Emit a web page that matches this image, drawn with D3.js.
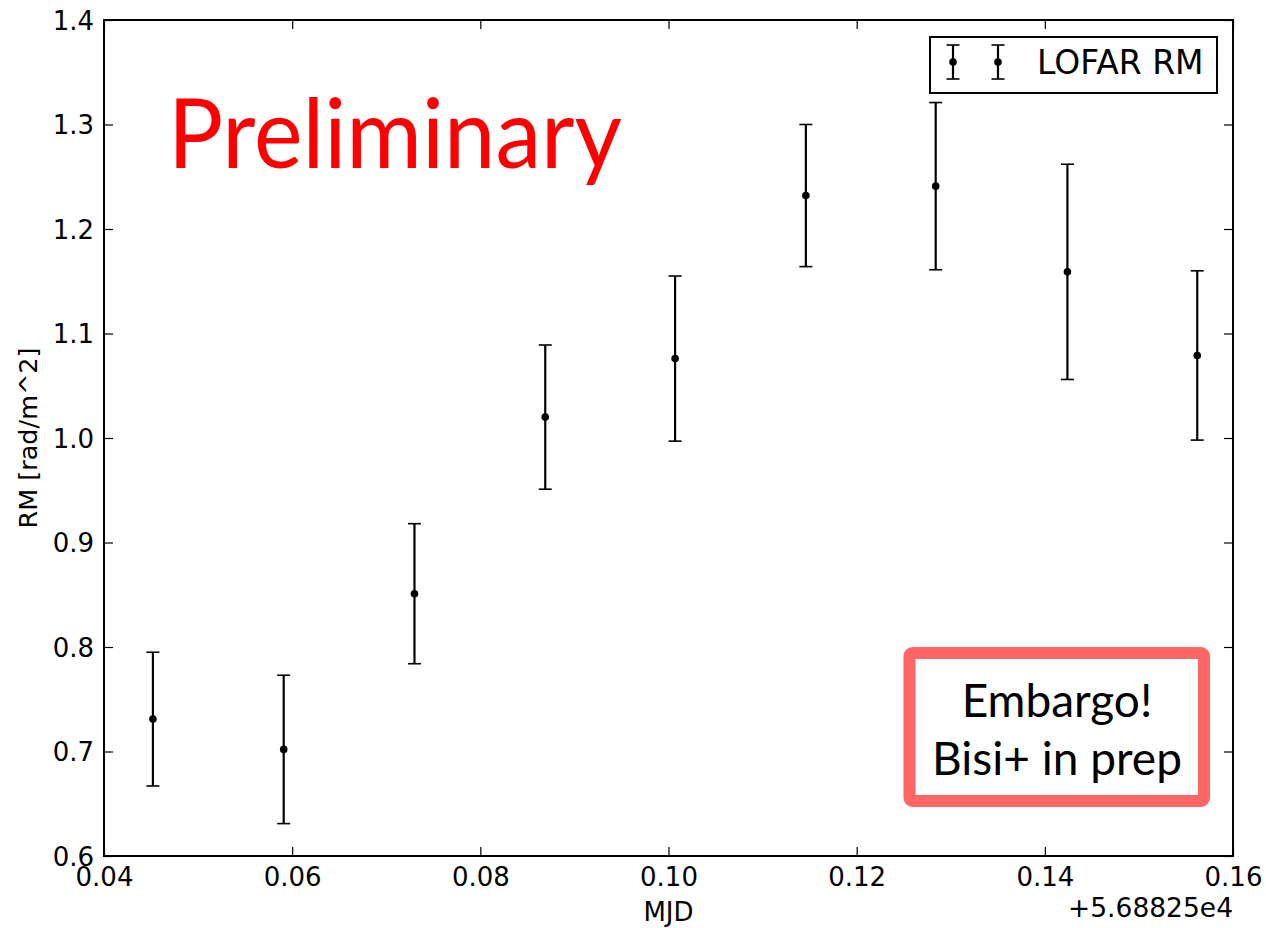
<!DOCTYPE html>
<html>
<head>
<meta charset="utf-8">
<script src="https://cdn.jsdelivr.net/npm/d3@7"></script>
<style>
  body { margin: 0; background: #fff; }
  svg { display: block; }
  text { font-family: "DejaVu Sans", sans-serif; }
</style>
</head>
<body>
<script>
// MJD offsets from 56882.5 and rotation measures
const mjd = [0.0452, 0.0591, 0.0730, 0.0869, 0.1007, 0.1146, 0.1284, 0.1424, 0.1562];
const rm = [0.731, 0.702, 0.851, 1.020, 1.076, 1.232, 1.241, 1.159, 1.079];
const rmErr = [0.064, 0.071, 0.067, 0.069, 0.079, 0.068, 0.080, 0.103, 0.081];
const xTicks = [0.04, 0.06, 0.08, 0.10, 0.12, 0.14, 0.16];
const yTicks = [0.6, 0.7, 0.8, 0.9, 1.0, 1.1, 1.2, 1.3, 1.4];

const width = 1266, height = 928;
const margin = { top: 20, right: 33, bottom: 72, left: 104 };

const svg = d3.select("body").append("svg")
    .attr("width", width)
    .attr("height", height);

const x = d3.scaleLinear().domain([0.04, 0.16]).range([margin.left, width - margin.right]);
const y = d3.scaleLinear().domain([0.6, 1.4]).range([height - margin.bottom, margin.top]);

const points = mjd.map((d, i) => ({ x: d, y: rm[i], e: rmErr[i] }));

// ticks point inward on all four sides, like matplotlib classic style
const tickLen = 9;
const axB = svg.append("g").attr("transform", `translate(0,${y(0.6)})`)
    .call(d3.axisBottom(x).tickValues(xTicks).tickSizeInner(-tickLen).tickSizeOuter(0)
        .tickPadding(11).tickFormat(d3.format(".2f")));
const axT = svg.append("g").attr("transform", `translate(0,${y(1.4)})`)
    .call(d3.axisTop(x).tickValues(xTicks).tickSizeInner(-tickLen).tickSizeOuter(0).tickFormat(""));
const axL = svg.append("g").attr("transform", `translate(${x(0.04)},0)`)
    .call(d3.axisLeft(y).tickValues(yTicks).tickSizeInner(-tickLen).tickSizeOuter(0)
        .tickPadding(10).tickFormat(d3.format(".1f")));
const axR = svg.append("g").attr("transform", `translate(${x(0.16)},0)`)
    .call(d3.axisRight(y).tickValues(yTicks).tickSizeInner(-tickLen).tickSizeOuter(0).tickFormat(""));

[axB, axT, axL, axR].forEach(a => {
    a.select(".domain").remove();
    a.selectAll(".tick line").attr("stroke", "#000").attr("stroke-width", 1.2);
    a.selectAll(".tick text").attr("fill", "#000").style("font-size", "26px");
});
axL.selectAll(".tick text").attr("dy", "0.36em");
axB.selectAll(".tick text").attr("dy", "0.72em");

// frame
svg.append("rect")
    .attr("x", x(0.04)).attr("y", y(1.4))
    .attr("width", x(0.16) - x(0.04)).attr("height", y(0.6) - y(1.4))
    .attr("fill", "none").attr("stroke", "#000").attr("stroke-width", 2);

// axis labels
svg.append("text")
    .attr("x", (x(0.04) + x(0.16)) / 2).attr("y", 921)
    .attr("text-anchor", "middle").style("font-size", "26px")
    .text("MJD");
svg.append("text")
    .attr("x", x(0.16)).attr("y", 917)
    .attr("text-anchor", "end").style("font-size", "26.5px")
    .text("+5.68825e4");
svg.append("text")
    .attr("transform", `translate(37,${(y(0.6) + y(1.4)) / 2}) rotate(-90)`)
    .attr("text-anchor", "middle").style("font-size", "25.5px")
    .text("RM [rad/m^2]");

// error bars
const capW = 6.5;
const bars = svg.append("g").selectAll("g").data(points).enter().append("g");
bars.append("line")
    .attr("x1", d => x(d.x)).attr("x2", d => x(d.x))
    .attr("y1", d => y(d.y - d.e)).attr("y2", d => y(d.y + d.e))
    .attr("stroke", "#000").attr("stroke-width", 2.2);
bars.append("line")
    .attr("x1", d => x(d.x) - capW).attr("x2", d => x(d.x) + capW)
    .attr("y1", d => y(d.y + d.e)).attr("y2", d => y(d.y + d.e))
    .attr("stroke", "#000").attr("stroke-width", 1.6);
bars.append("line")
    .attr("x1", d => x(d.x) - capW).attr("x2", d => x(d.x) + capW)
    .attr("y1", d => y(d.y - d.e)).attr("y2", d => y(d.y - d.e))
    .attr("stroke", "#000").attr("stroke-width", 1.6);
bars.append("circle")
    .attr("cx", d => x(d.x)).attr("cy", d => y(d.y))
    .attr("r", 3.8).attr("fill", "#000");

// legend
const lg = svg.append("g");
lg.append("rect")
    .attr("x", 930).attr("y", 37).attr("width", 287).attr("height", 56)
    .attr("fill", "#fff").attr("stroke", "#000").attr("stroke-width", 2);
[953, 998].forEach(cx => {
    lg.append("line").attr("x1", cx).attr("x2", cx).attr("y1", 45).attr("y2", 79)
        .attr("stroke", "#000").attr("stroke-width", 2.2);
    [45, 79].forEach(cy => lg.append("line")
        .attr("x1", cx - capW).attr("x2", cx + capW).attr("y1", cy).attr("y2", cy)
        .attr("stroke", "#000").attr("stroke-width", 1.6));
    lg.append("circle").attr("cx", cx).attr("cy", 62).attr("r", 3.8).attr("fill", "#000");
});
lg.append("text").attr("x", 1037).attr("y", 74)
    .style("font-size", "33px").text("LOFAR RM");

// overlay annotations
svg.append("text")
    .attr("x", 168).attr("y", 168)
    .style("font-family", "Lato, 'Open Sans', sans-serif")
    .style("font-size", "96px").attr("fill", "#ff0000")
    .attr("textLength", 454).attr("lengthAdjust", "spacingAndGlyphs")
    .text("Preliminary");

const emb = svg.append("g");
emb.append("rect")
    .attr("x", 909.5).attr("y", 653).attr("width", 294.5).attr("height", 148)
    .attr("rx", 3).attr("fill", "#fff").attr("stroke", "#ff6666").attr("stroke-width", 12);
emb.append("text").attr("x", 1057).attr("y", 717).attr("text-anchor", "middle")
    .style("font-family", "Lato, sans-serif").style("font-size", "46px").text("Embargo!");
emb.append("text").attr("x", 1057).attr("y", 775).attr("text-anchor", "middle")
    .style("font-family", "Lato, sans-serif").style("font-size", "46px").text("Bisi+ in prep");
</script>
</body>
</html>
